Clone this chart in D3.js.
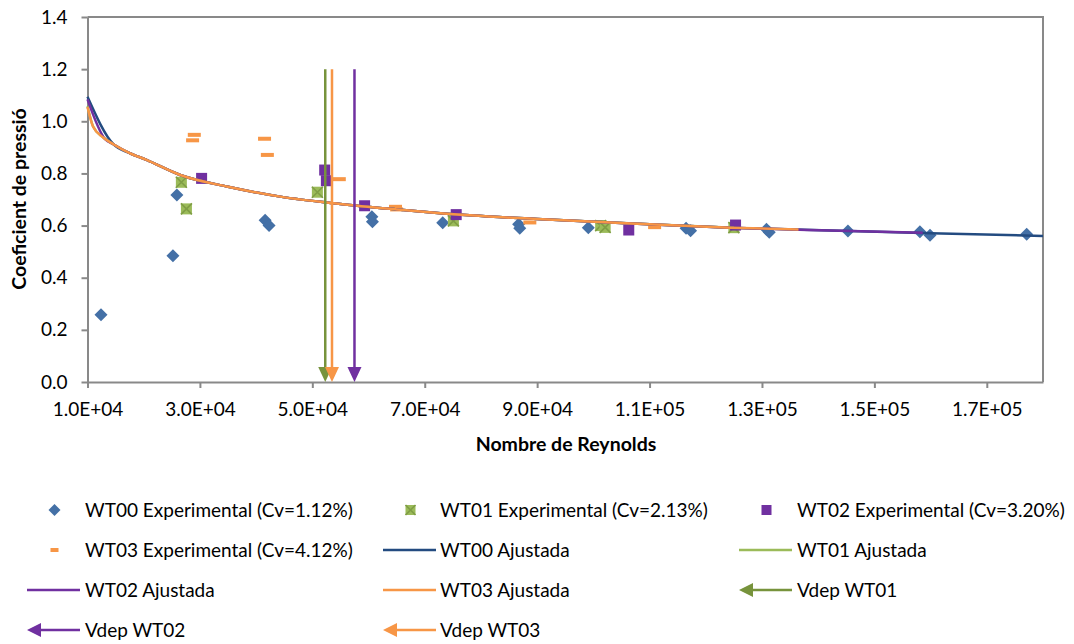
<!DOCTYPE html>
<html>
<head>
<meta charset="utf-8">
<script src="https://cdn.jsdelivr.net/npm/d3@7"></script>
<style>
  html, body { margin: 0; padding: 0; background: #fff; }
  svg { display: block; font-family: Lato, "Open Sans", sans-serif; }
</style>
</head>
<body>
<svg id="chart" width="1074" height="644"></svg>
<script>
// ---- Experimental points (Reynolds number, pressure coefficient) ----
const wt00Re = [12400, 25200, 25900, 41600, 42300, 60600, 60700, 73200, 86700, 86900, 99100, 116500, 117300, 130800, 131300, 145300, 158100, 159900, 177100];
const wt00Cp = [0.258, 0.484, 0.717, 0.620, 0.600, 0.634, 0.615, 0.611, 0.605, 0.590, 0.592, 0.590, 0.580, 0.586, 0.574, 0.579, 0.576, 0.563, 0.567];

const wt01Re = [26700, 27600, 50900, 75100, 101300, 102100, 125000];
const wt01Cp = [0.766, 0.664, 0.728, 0.618, 0.600, 0.593, 0.592];

const wt02Re = [30300, 52200, 52500, 59300, 75600, 106300, 125300];
const wt02Cp = [0.781, 0.813, 0.772, 0.676, 0.642, 0.583, 0.602];

const wt03Re = [28700, 29000, 41500, 42000, 54800, 64800, 65000, 88700, 110900];
const wt03Cp = [0.927, 0.948, 0.933, 0.871, 0.778, 0.672, 0.662, 0.612, 0.594];

// ---- Fitted curves ----
const fit00Re = [10000, 14600, 17500, 20500, 26500, 35000, 44300, 55000, 65000, 72800, 90000, 110000, 124400, 142200, 160000, 180000];
const fit00Cp = [1.094, 0.912, 0.878, 0.852, 0.794, 0.749, 0.711, 0.683, 0.662, 0.647, 0.625, 0.605, 0.592, 0.581, 0.571, 0.560];

const fit01Re = [10000, 11000, 12800, 14600, 17500, 20500, 26500, 35000, 44300, 55000, 65000, 72800, 90000, 110000, 125000];
const fit01Cp = [1.058, 0.980, 0.938, 0.912, 0.878, 0.852, 0.794, 0.749, 0.711, 0.683, 0.662, 0.647, 0.625, 0.605, 0.592];

const fit02Re = [10000, 13100, 14600, 17500, 20500, 26500, 35000, 44300, 55000, 65000, 72800, 90000, 110000, 124400, 142200, 158600];
const fit02Cp = [1.084, 0.932, 0.912, 0.878, 0.852, 0.794, 0.749, 0.711, 0.683, 0.662, 0.647, 0.625, 0.605, 0.592, 0.581, 0.572];

const fit03Re = [10000, 11000, 12800, 14600, 17500, 20500, 26500, 35000, 44300, 55000, 65000, 72800, 90000, 110000, 124400, 136500];
const fit03Cp = [1.055, 0.979, 0.938, 0.912, 0.878, 0.852, 0.794, 0.749, 0.711, 0.683, 0.662, 0.647, 0.625, 0.605, 0.592, 0.585];

// ---- Deposition velocity markers (Reynolds number) ----
const vdepRe = [52300, 57500, 53500];
const vdepNames = ["Vdep WT01", "Vdep WT02", "Vdep WT03"];
const vdepTop = 1.2;

// ---- Axes ----
const xDomain = [10000, 180000];
const yDomain = [0, 1.4];
const xTicks = [10000, 30000, 50000, 70000, 90000, 110000, 130000, 150000, 170000];
const yTicks = [0, 0.2, 0.4, 0.6, 0.8, 1.0, 1.2, 1.4];
const xTitle = "Nombre de Reynolds";
const yTitle = "Coeficient de pressió";

const colors = {
  wt00: "#4470A6", wt01: "#9BBB59", wt01x: "#7F9D45", wt02: "#7030A0", wt03: "#F79646",
  fit00: "#234B80", fit01: "#9BBB59", fit02: "#7030A0", fit03: "#F79646",
  vdep01: "#77933C", vdep02: "#7030A0", vdep03: "#F79646"
};

const svg = d3.select("#chart");
const W = 1074, H = 644;
const plot = { left: 87.5, right: 1043, top: 17, bottom: 382 };
const fontSize = "19px";

svg.append("rect").attr("width", W).attr("height", H).attr("fill", "#fff");

const x = d3.scaleLinear().domain(xDomain).range([plot.left, plot.right]);
const y = d3.scaleLinear().domain(yDomain).range([plot.bottom, plot.top]);

// scientific label, e.g. 1.0E+04
function sci(v) {
  const e = Math.floor(Math.log10(v));
  const m = v / Math.pow(10, e);
  return m.toFixed(1) + "E+" + String(e).padStart(2, "0");
}

const axisColor = "#898989";

// plot frame (top and right)
svg.append("path")
  .attr("d", `M${plot.left},${plot.top}H${plot.right}V${plot.bottom}`)
  .attr("fill", "none").attr("stroke", axisColor).attr("stroke-width", 2);

const gx = svg.append("g").attr("transform", `translate(0,${plot.bottom})`)
  .call(d3.axisBottom(x).tickValues(xTicks).tickFormat(sci).tickSize(6).tickPadding(15).tickSizeOuter(0));
const gy = svg.append("g").attr("transform", `translate(${plot.left},0)`)
  .call(d3.axisLeft(y).tickValues(yTicks).tickFormat(d3.format(".1f")).tickSize(6).tickPadding(14).tickSizeOuter(0));

[gx, gy].forEach(g => {
  g.select(".domain").attr("stroke", axisColor).attr("stroke-width", 2);
  g.selectAll(".tick line").attr("stroke", axisColor).attr("stroke-width", 2);
  g.selectAll(".tick text").attr("fill", "#000").style("font-size", fontSize).style("font-family", "Lato, sans-serif");
});

// axis titles
svg.append("text").attr("x", 566).attr("y", 451).attr("text-anchor", "middle")
  .style("font-size", "19.5px").style("font-weight", "bold").text(xTitle);
svg.append("text").attr("transform", "translate(26,199) rotate(-90)").attr("text-anchor", "middle")
  .style("font-size", "19.5px").style("font-weight", "bold").text(yTitle);

// ---- marker drawers ----
function diamond(g, cx, cy, r, fill) {
  g.append("path").attr("d", `M${cx},${cy - r}L${cx + r},${cy}L${cx},${cy + r}L${cx - r},${cy}Z`).attr("fill", fill);
}
function xSquare(g, cx, cy, s) {
  const h = s / 2;
  g.append("rect").attr("x", cx - h).attr("y", cy - h).attr("width", s).attr("height", s).attr("fill", colors.wt01);
  g.append("path").attr("d", `M${cx - h},${cy - h}L${cx + h},${cy + h}M${cx + h},${cy - h}L${cx - h},${cy + h}`)
    .attr("stroke", colors.wt01x).attr("stroke-width", 1.6);
}
function square(g, cx, cy, s, fill) {
  g.append("rect").attr("x", cx - s / 2).attr("y", cy - s / 2).attr("width", s).attr("height", s).attr("fill", fill);
}
function dash(g, cx, cy, w, h, fill) {
  g.append("rect").attr("x", cx - w / 2).attr("y", cy - h / 2).attr("width", w).attr("height", h).attr("fill", fill);
}

// ---- experimental series ----
const gm = svg.append("g");
wt00Re.forEach((r, i) => diamond(gm, x(r), y(wt00Cp[i]), 6.5, colors.wt00));
wt01Re.forEach((r, i) => xSquare(gm, x(r), y(wt01Cp[i]), 11));
wt02Re.forEach((r, i) => square(gm, x(r), y(wt02Cp[i]), 11, colors.wt02));
wt03Re.forEach((r, i) => dash(gm, x(r), y(wt03Cp[i]), 13, 4, colors.wt03));

// ---- fitted curves ----
const line = d3.line().x(d => x(d[0])).y(d => y(d[1])).curve(d3.curveMonotoneX);
const fits = [
  [fit00Re, fit00Cp, colors.fit00],
  [fit01Re, fit01Cp, colors.fit01],
  [fit02Re, fit02Cp, colors.fit02],
  [fit03Re, fit03Cp, colors.fit03]
];
fits.forEach(([re, cp, c]) => {
  svg.append("path").datum(re.map((r, i) => [r, cp[i]]))
    .attr("d", line).attr("fill", "none").attr("stroke", c).attr("stroke-width", 2.5);
});

// ---- deposition velocity arrows ----
const vdepColors = [colors.vdep01, colors.vdep02, colors.vdep03];
function downArrow(g, px, y0, y1, c) {
  const hw = 7, hh = 15;
  g.append("line").attr("x1", px).attr("x2", px).attr("y1", y0).attr("y2", y1 - hh + 2)
    .attr("stroke", c).attr("stroke-width", 2.5);
  g.append("path").attr("d", `M${px - hw},${y1 - hh}L${px + hw},${y1 - hh}L${px},${y1}Z`).attr("fill", c);
}
const ga = svg.append("g");
vdepRe.forEach((r, i) => downArrow(ga, x(r), y(vdepTop), y(0), vdepColors[i]));

// ---- legend ----
const legendItems = [
  { name: "WT00 Experimental (Cv=1.12%)", kind: "diamond" },
  { name: "WT01 Experimental (Cv=2.13%)", kind: "xsquare" },
  { name: "WT02 Experimental (Cv=3.20%)", kind: "square" },
  { name: "WT03 Experimental (Cv=4.12%)", kind: "dash" },
  { name: "WT00 Ajustada", kind: "line", color: colors.fit00 },
  { name: "WT01 Ajustada", kind: "line", color: colors.fit01 },
  { name: "WT02 Ajustada", kind: "line", color: colors.fit02 },
  { name: "WT03 Ajustada", kind: "line", color: colors.fit03 },
  { name: vdepNames[0], kind: "arrow", color: colors.vdep01 },
  { name: vdepNames[1], kind: "arrow", color: colors.vdep02 },
  { name: vdepNames[2], kind: "arrow", color: colors.vdep03 }
];
const legCols = [{ x0: 27, x1: 80, tx: 85 }, { x0: 383, x1: 436, tx: 440 }, { x0: 739, x1: 792, tx: 797 }];
const legRows = [510, 550, 590, 630];
const gl = svg.append("g");
legendItems.forEach((it, i) => {
  const col = legCols[i % 3], row = legRows[Math.floor(i / 3)];
  const cx = (col.x0 + col.x1) / 2 + 1;
  if (it.kind === "diamond") diamond(gl, cx, row, 6, colors.wt00);
  else if (it.kind === "xsquare") xSquare(gl, cx, row, 10);
  else if (it.kind === "square") square(gl, cx, row, 10, colors.wt02);
  else if (it.kind === "dash") dash(gl, cx, row, 8, 4, colors.wt03);
  else if (it.kind === "line") {
    gl.append("line").attr("x1", col.x0).attr("x2", col.x1).attr("y1", row).attr("y2", row)
      .attr("stroke", it.color).attr("stroke-width", 2.5);
  } else if (it.kind === "arrow") {
    gl.append("line").attr("x1", col.x0 + 12).attr("x2", col.x1).attr("y1", row).attr("y2", row)
      .attr("stroke", it.color).attr("stroke-width", 2.5);
    gl.append("path").attr("d", `M${col.x0},${row}L${col.x0 + 14},${row - 7}L${col.x0 + 14},${row + 7}Z`).attr("fill", it.color);
  }
  gl.append("text").attr("x", col.tx).attr("y", row).attr("dy", "0.35em")
    .style("font-size", fontSize).attr("fill", "#000").text(it.name);
});
</script>
</body>
</html>
